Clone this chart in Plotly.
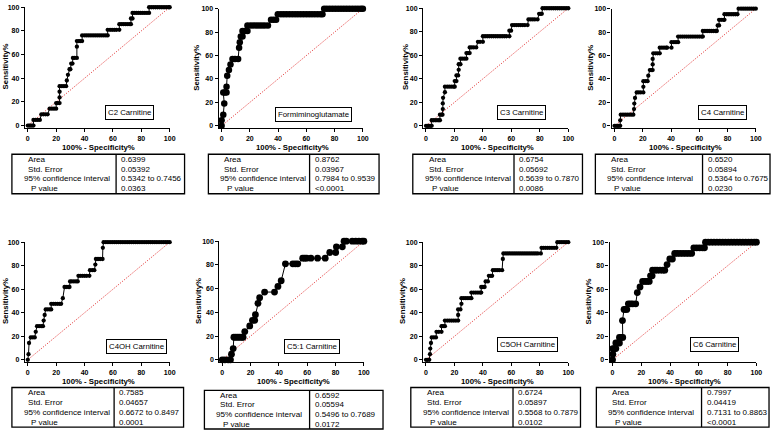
import plotly.graph_objects as go

W, H = 778, 431

# ---------------- data ----------------
names = ["C2 Carnitine", "Formiminoglutamate", "C3 Carnitine", "C4 Carnitine",
         "C4OH Carnitine", "C5:1 Carnitine", "C5OH Carnitine", "C6 Carnitine"]
area = ["0.6399", "0.8762", "0.6754", "0.6520", "0.7585", "0.6592", "0.6724", "0.7997"]
std_error = ["0.05392", "0.03967", "0.05692", "0.05894", "0.04657", "0.05594", "0.05897", "0.04419"]
ci95 = ["0.5342 to 0.7456", "0.7984 to 0.9539", "0.5639 to 0.7870", "0.5364 to 0.7675",
        "0.6672 to 0.8497", "0.5496 to 0.7689", "0.5568 to 0.7879", "0.7131 to 0.8863"]
p_value = ["0.0363", "<0.0001", "0.0086", "0.0230", "0.0001", "0.0172", "0.0102", "<0.0001"]
row_labels = ["Area", "Std. Error", "95% confidence interval", "P value"]
tick_vals = [0, 20, 40, 60, 80, 100]

# ROC points: (sensitivity %, [100% - specificity % values])
roc_c2 = [
    (0, [0, 1, 2, 3, 4]),
    (4.76, [4, 5.5, 7, 8.5]),
    (9.52, [9.6, 11, 12.5, 14]),
    (14.29, [15.4, 17, 18.5, 20]),
    (19.05, [20, 21, 22.4]),
    (23.81, [22.4]),
    (28.57, [22.4]),
    (33.33, [22.4, 24, 25.5, 27]),
    (38.10, [27.5]),
    (42.86, [28.3]),
    (47.62, [29.4, 30]),
    (52.38, [30.6, 31.5]),
    (57.14, [31.8, 33, 34.6]),
    (66.67, [34.6]),
    (71.43, [34.6, 36, 37, 38.3]),
    (76.19, [38.3, 40, 41.5, 43, 44.5, 46, 47.5, 49, 50.5, 52, 53.5, 55, 56.3]),
    (80.95, [56.3, 58, 59.5, 61, 62.5, 64.5]),
    (85.71, [64.5, 66, 67.5, 69, 70.5, 72, 72.7]),
    (90.48, [72.7, 73.8]),
    (95.24, [73.8, 75, 76.5, 78, 79.5, 81, 82.5, 84, 85.5]),
    (100, [85.5, 87, 88.5, 90, 91.5, 93, 94.5, 96, 97.5, 99, 100]),
]
roc_figlu = [
    (0, [0]),
    (4.76, [0]),
    (9.52, [1.2]),
    (19.05, [1.9]),
    (28.57, [1.2, 2.3, 3.5]),
    (33.33, [3.5]),
    (42.86, [4]),
    (47.62, [5.2]),
    (52.38, [6.3]),
    (57.14, [7.7, 9.5, 11.7]),
    (66.67, [12.4]),
    (71.43, [12.9]),
    (76.19, [13.6, 14.8]),
    (80.95, [14.8, 16.5, 18.3]),
    (85.71, [18.3, 20.5, 22.5, 24.5, 26.5, 28.5, 30.5, 32.8]),
    (90.48, [35, 36.8, 38.6]),
    (95.24, [39.8, 42, 44, 46, 48, 50, 52, 54, 56, 58, 60, 62, 64, 66, 68, 70, 71.4]),
    (100, [72.6, 74.5, 76.5, 78.5, 80.5, 82.5, 84.5, 86.5, 88.5, 90.5, 92.5, 94.5, 96.5, 98.5, 100]),
]
roc_c3 = [
    (0, [0, 1, 2, 3, 4]),
    (4.76, [4, 5.5, 7, 8.5, 9.8]),
    (9.52, [9.8, 11, 11.6]),
    (14.29, [11.8]),
    (19.05, [11.8]),
    (23.81, [12]),
    (28.57, [13.3]),
    (33.33, [13.3, 15, 16.5, 18, 19.5, 20.2]),
    (38.10, [20.2, 21.4]),
    (42.86, [21.4, 22.6]),
    (47.62, [23]),
    (52.38, [23, 24.2]),
    (57.14, [24.2, 25.5, 27, 28.4]),
    (61.90, [28.4, 29.5, 30.7]),
    (66.67, [30.7, 32, 33.5, 35.3]),
    (71.43, [36.5, 38, 40]),
    (76.19, [40, 41.5, 43, 44.5, 46, 47.5, 49, 50.5, 52, 53.5, 55, 56.5, 58.6]),
    (80.95, [58.6, 59.8]),
    (85.71, [60.5, 62, 63.5, 65, 66.5, 68, 69.5, 71.4]),
    (90.48, [72, 73.5, 75, 76.5, 78.4]),
    (95.24, [79.5, 80.5, 81.4]),
    (100, [81.9, 83.5, 85, 86.5, 88, 89.5, 91, 92.5, 94, 95.5, 97, 98.5, 100]),
]
roc_c4 = [
    (0, [0, 1, 2, 3, 4]),
    (4.76, [4]),
    (9.52, [4.4, 6, 7.5, 9, 10.5, 12, 13.3]),
    (14.29, [13.8]),
    (19.05, [14]),
    (23.81, [14.5]),
    (28.57, [15.7, 17, 18.5, 20.4]),
    (33.33, [20.4]),
    (38.10, [20.4, 22, 23.4]),
    (42.86, [23.9]),
    (47.62, [25, 26, 27]),
    (52.38, [27]),
    (57.14, [27]),
    (61.90, [27.4, 29, 30.5, 32]),
    (66.67, [32, 33.5, 35, 36.5, 37.2, 40.3]),
    (71.43, [40.3, 42, 43.5, 45]),
    (76.19, [45, 46.5, 48, 49.5, 51, 52.5, 54, 55.5, 57, 58.5, 60, 61.5, 62.5]),
    (80.95, [62.5, 64, 65.5, 67, 68.5, 70, 71.5, 72.4]),
    (85.71, [73, 74]),
    (90.48, [74, 75.5, 77, 77.8]),
    (95.24, [77.8, 79.5, 81, 82.5, 84, 85.5, 87]),
    (100, [87.8, 89.5, 91, 92.5, 94, 95.5, 97, 98.5, 100]),
]
roc_c4oh = [
    (0, [0]),
    (4.76, [0.5]),
    (14.29, [0.9]),
    (19.05, [2.1, 3.5, 4.9]),
    (23.81, [5.6]),
    (28.57, [6.5, 8, 9.5, 10.7]),
    (33.33, [11.2]),
    (38.10, [11.9]),
    (42.86, [12.6, 14, 15.5, 16.5]),
    (47.62, [16.5, 18, 19.5, 21, 22.5, 23.5]),
    (52.38, [24.7]),
    (61.90, [25.9, 27, 28.5, 29.4]),
    (66.67, [29.8, 31, 32.5, 34, 35.2]),
    (71.43, [35.7, 37, 38.5, 40, 41.5, 43.4]),
    (76.19, [43.8, 45.5, 46.9]),
    (80.95, [47.6]),
    (85.71, [48, 49.5, 51, 52.7]),
    (95.24, [52.9]),
    (100, [53.4, 55, 56.5, 58, 59.5, 61, 62.5, 64, 65.5, 67, 68.5, 70, 71.5, 73, 74.5, 76,
           77.5, 79, 80.5, 82, 83.5, 85, 86.5, 88, 89.5, 91, 92.5, 94, 95.5, 97, 98.5, 100]),
]
roc_c51 = [
    (0, [0, 1.9, 4.2, 5.8]),
    (4.76, [6.5]),
    (9.52, [7.7]),
    (19.05, [8.2, 9.6, 11, 12.4, 13.8, 14.7]),
    (23.81, [15.9]),
    (28.57, [19.4]),
    (33.33, [21.3, 22.9]),
    (38.10, [23.4]),
    (47.62, [25.2]),
    (52.38, [26.4]),
    (57.14, [29.9, 36.9]),
    (61.90, [39.3]),
    (66.67, [41.6]),
    (80.95, [44.6, 49.8, 51.6, 53.3]),
    (85.71, [56.8, 58.2, 59.6, 62.6, 67.3, 72.7]),
    (90.48, [75.9, 80.1]),
    (95.24, [80.6, 84.8]),
    (100, [86, 87.6, 91.8, 94.2, 96.5, 98.8, 100]),
]
roc_c5oh = [
    (0, [0, 1, 2.3]),
    (4.76, [2.8]),
    (9.52, [3]),
    (14.29, [3.5]),
    (19.05, [4, 5.5, 7]),
    (23.81, [7.4, 9, 10.9]),
    (28.57, [10.9, 12, 13.3]),
    (33.33, [13.3, 15, 16.5, 18, 19.5, 21, 22.6]),
    (38.10, [22.6]),
    (42.86, [22.6, 24.2]),
    (47.62, [24.9]),
    (52.38, [24.9, 26.5, 28, 29.5, 31, 31.9]),
    (57.14, [31.9, 33.5, 35, 36.5, 38, 38.8]),
    (61.90, [38.8, 40, 41.2]),
    (66.67, [41.9, 43.5]),
    (71.43, [44.2, 45.5, 46.5]),
    (76.19, [47, 48.5, 50, 51.5, 53.5]),
    (85.71, [54]),
    (90.48, [54.4, 56, 57.5, 59, 60.5, 62, 63.5, 65, 66.5, 68, 69.5, 71, 72.5, 74, 75.5,
             77, 78.5, 80.7]),
    (95.24, [81.2, 82.5, 84, 85.5, 87, 88.5, 90, 91.6]),
    (100, [92.3, 94, 95.5, 97, 98.5, 100]),
]
roc_c6 = [
    (0, [0]),
    (4.76, [0.2]),
    (9.52, [0.2, 1.3, 2.3]),
    (14.29, [2.3, 3.5, 4.8]),
    (19.05, [4.8, 6, 7.1]),
    (33.33, [6.9]),
    (42.86, [8, 9, 9.9]),
    (47.62, [11, 12.5, 14, 16.1]),
    (57.14, [17.2]),
    (61.90, [19.1]),
    (66.67, [20.9, 22.5, 24, 25.5]),
    (71.43, [26.4, 27.5]),
    (76.19, [27.8, 29.5, 31, 33, 35, 36.3]),
    (80.95, [37.9]),
    (85.71, [39.8, 41.6]),
    (90.48, [43.2, 45, 47, 49, 51, 53, 55]),
    (95.24, [56.5, 58.5, 60.5, 62.5, 63.9]),
    (100, [64.6, 66.5, 68.5, 70.5, 72.5, 74.5, 76.5, 78.5, 80.5, 82.5, 84.5, 86.5, 88.5,
           90.5, 92.5, 94.5, 96.5, 98.5, 100]),
]
rocs = [roc_c2, roc_figlu, roc_c3, roc_c4, roc_c4oh, roc_c51, roc_c5oh, roc_c6]

# ---------------- layout constants (pixels) ----------------
PLOT = [
    (28.0, 171.0, 123.0, 3.3),
    (223.3, 365.7, 123.3, 4.7),
    (429.3, 572.7, 123.3, 4.3),
    (619.3, 761.7, 123.3, 4.7),
    (28.0, 171.0, 360.0, 241.0),
    (224.0, 366.7, 360.0, 240.0),
    (429.3, 572.7, 360.0, 241.0),
    (617.3, 762.3, 360.0, 241.0),
]
MARKER = [4.3, 6.5, 4.3, 4.3, 4.3, 6.8, 4.3, 6.8]
YTITLE_X = [5, 198, 408, 595, 5, 200, 405, 593]
XTITLE_Y = [145, 145, 145, 145, 381.5, 381.5, 381.5, 381.5]
LABEL_C = [(130.5, 110), (316, 111.5), (526, 110), (728, 110),
           (137.5, 346.5), (314, 347), (532, 345), (720, 345)]
TABLE = [
    (12, 117, 186, 152, 192),
    (210, 312, 382, 152, 192),
    (416, 518, 587, 152, 192),
    (600, 708, 776, 152, 192),
    (12, 115, 185, 388, 428),
    (206, 312, 386, 391, 430),
    (414, 517, 585, 388, 428),
    (601, 707, 775, 388, 428),
]
ROW_OFFSET = [14, 14, 10, 17]

FONT = "Liberation Sans, Arial, sans-serif"


def px(x):
    return x / W


def py(y):
    return 1 - y / H


fig = go.Figure()
annotations = []
shapes = []
LO = -2.0

for i in range(8):
    n = "" if i == 0 else str(i + 1)
    xa, ya = "x" + n, "y" + n
    x0, x100, y0, y100 = PLOT[i]
    sx = (x100 - x0) / 100.0
    sy = (y0 - y100) / 100.0
    dom_x = [px(x0 + LO * sx), px(x100)]
    dom_y = [py(y0 - LO * sy), py(y100)]

    fx, fy = [], []
    for sens, fprs in rocs[i]:
        for f in fprs:
            fx.append(f)
            fy.append(sens)

    fig.add_trace(go.Scatter(x=[0, 100], y=[0, 100], mode="lines",
                             line=dict(color="#e02a2a", width=1, dash="1px,1.5px"),
                             xaxis=xa, yaxis=ya, hoverinfo="skip", showlegend=False))
    fig.add_trace(go.Scatter(x=fx, y=fy, mode="lines+markers",
                             line=dict(color="black", width=1),
                             marker=dict(size=MARKER[i], color="black", line=dict(width=0)),
                             cliponaxis=False, xaxis=xa, yaxis=ya, showlegend=False))

    axis_common = dict(range=[LO, 100], showgrid=False, zeroline=False, showline=True,
                       linecolor="black", linewidth=1.4, ticks="outside", ticklen=3,
                       tickwidth=1.4, tickcolor="black", tickvals=tick_vals,
                       tickfont=dict(family=FONT, size=7, color="black", weight="bold"),
                       fixedrange=True)
    fig.update_layout(**{
        "xaxis" + n: dict(domain=dom_x, anchor=ya, **axis_common),
        "yaxis" + n: dict(domain=dom_y, anchor=xa, **axis_common),
    })

    annotations.append(dict(x=px((x0 + x100) / 2), y=py(XTITLE_Y[i]), xref="paper", yref="paper",
                            text="<b>100% - Specificity%</b>", showarrow=False,
                            font=dict(family=FONT, size=7.8, color="black"),
                            xanchor="center", yanchor="middle"))
    annotations.append(dict(x=px(YTITLE_X[i]), y=py((y0 + y100) / 2), xref="paper", yref="paper",
                            text="<b>Sensitivity%</b>", showarrow=False, textangle=-90,
                            font=dict(family=FONT, size=7.8, color="black"),
                            xanchor="center", yanchor="middle"))
    cx, cy = LABEL_C[i]
    annotations.append(dict(x=px(cx), y=py(cy), xref="paper", yref="paper",
                            text=names[i], showarrow=False,
                            font=dict(family=FONT, size=7.8, color="black"),
                            bordercolor="black", borderwidth=1, borderpad=2, bgcolor="white",
                            xanchor="center", yanchor="middle"))
    tl, td, tr, tt, tb = TABLE[i]
    shapes.append(dict(type="rect", xref="paper", yref="paper",
                       x0=px(tl), x1=px(tr), y0=py(tb), y1=py(tt),
                       line=dict(color="black", width=1.3)))
    shapes.append(dict(type="line", xref="paper", yref="paper",
                       x0=px(td), x1=px(td), y0=py(tb), y1=py(tt),
                       line=dict(color="black", width=1.3)))
    rh = (tb - tt) / 4.0
    vals = [area[i], std_error[i], ci95[i], p_value[i]]
    for r in range(4):
        yc = tt + rh * (r + 0.5)
        annotations.append(dict(x=px(tl + ROW_OFFSET[r]), y=py(yc), xref="paper", yref="paper",
                                text=row_labels[r], showarrow=False,
                                font=dict(family=FONT, size=8.1, color="black"),
                                xanchor="left", yanchor="middle"))
        annotations.append(dict(x=px(td + 3), y=py(yc), xref="paper", yref="paper",
                                text=vals[r], showarrow=False,
                                font=dict(family=FONT, size=8.0, color="black"),
                                xanchor="left", yanchor="middle"))

fig.update_layout(width=W, height=H, margin=dict(l=0, r=0, t=0, b=0),
                  paper_bgcolor="white", plot_bgcolor="white", showlegend=False,
                  annotations=annotations, shapes=shapes,
                  font=dict(family=FONT, color="black"))

fig.write_html("out.html", config={"displayModeBar": False},
               post_script="document.body.style.margin='0';document.body.style.padding='0';document.body.style.overflow='hidden';")
